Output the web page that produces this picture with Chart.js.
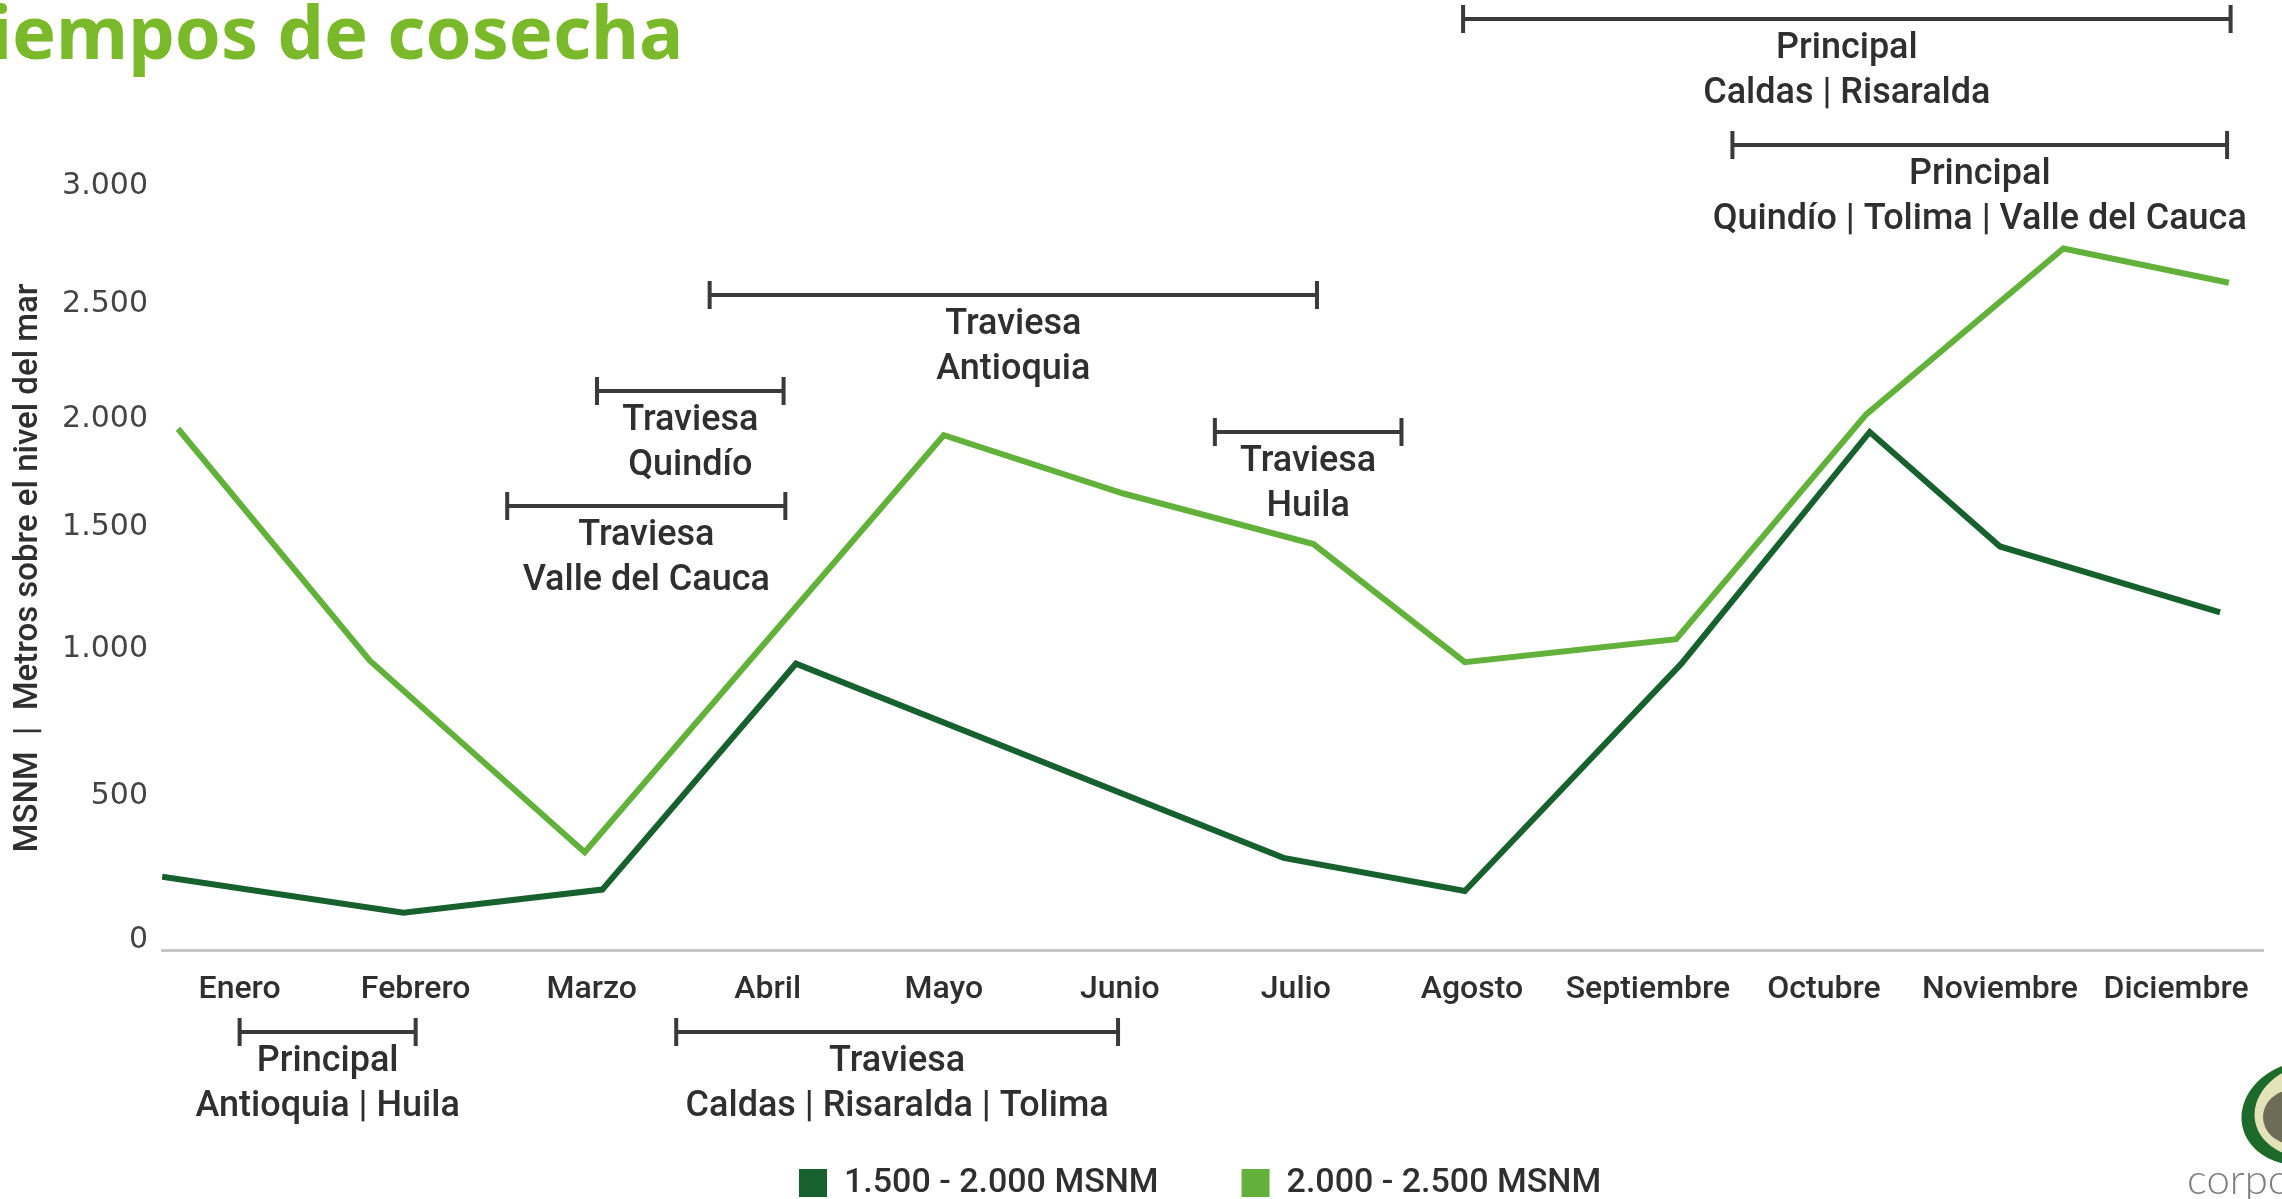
<!DOCTYPE html>
<html>
<head>
<meta charset="utf-8">
<script src="https://cdn.jsdelivr.net/npm/chart.js@4.4.1/dist/chart.umd.min.js"></script>
<style>
  html, body { margin: 0; padding: 0; background: #ffffff; overflow: hidden; }
  #wrap { width: 2282px; height: 1199px; position: relative; }
  canvas { display: block; }
</style>
</head>
<body>
<div id="wrap"><canvas id="chart" width="2282" height="1199"></canvas></div>
<script>
// ---------------- DATA ----------------
const months = ['Enero', 'Febrero', 'Marzo', 'Abril', 'Mayo', 'Junio', 'Julio',
                'Agosto', 'Septiembre', 'Octubre', 'Noviembre', 'Diciembre'];
const yTickValues = [0, 500, 1000, 1500, 2000, 2500, 3000];
const yTickLabels = ['0', '500', '1.000', '1.500', '2.000', '2.500', '3.000'];
const seriesNames = ['1.500 - 2.000 MSNM', '2.000 - 2.500 MSNM'];

// position along the year in months (0 = Enero, 11 = Diciembre), altitude value (MSNM)
const darkX  = [-0.44, 0.93, 2.06, 3.16, 5.93, 6.96, 8.19, 9.26, 10.0, 11.25];
const darkY  = [220, 95, 175, 950, 285, 170, 950, 1940, 1420, 1150];
const lightX = [-0.35, 0.74, 1.96, 4.0, 5.02, 6.1, 6.96, 8.16, 9.24, 10.36, 11.3];
const lightY = [1955, 960, 305, 1925, 1655, 1430, 955, 1040, 2020, 2735, 2590];

// harvest periods (month positions)
const periodTitles  = ['Principal', 'Principal', 'Traviesa', 'Traviesa', 'Traviesa', 'Traviesa', 'Principal', 'Traviesa'];
const periodRegions = ['Caldas | Risaralda', 'Quindío | Tolima | Valle del Cauca', 'Antioquia', 'Quindío',
                       'Valle del Cauca', 'Huila', 'Antioquia | Huila', 'Caldas | Risaralda | Tolima'];
const periodStart   = [6.95, 8.48, 2.67, 2.03, 1.52, 5.54, 0.0, 2.48];
const periodEnd     = [11.31, 11.29, 6.12, 3.09, 3.10, 6.60, 1.0, 4.99];

// ---------------- LAYOUT / STYLE ----------------
const DARK = '#17612e';
const LIGHT = '#62b13a';
const TITLE_GREEN = '#7ab929';
const TEXT = '#2f2f2f';
const FONT = 'Roboto';
const CHART_BOTTOM = 950;
const BRACKET_Y = [19, 145, 295, 391, 506, 432, 1032, 1032];
// where each y tick sits along the plot height (the original axis is spaced unevenly)
const Y_TICK_FRACTIONS = [0.0131, 0.2016, 0.394, 0.5537, 0.695, 0.8455, 1.0];
const LEGEND_LEFT = 799, LEGEND_CY = 1183;

// ---------- piecewise linear scale following the original tick spacing ----------
class BandScale extends Chart.LinearScale {
  static id = 'band';
  static defaults = Chart.LinearScale.defaults;
  _frac(v) {
    const vs = yTickValues, fs = Y_TICK_FRACTIONS;
    let i = 1;
    while (i < vs.length - 1 && v > vs[i]) i++;
    return fs[i - 1] + (v - vs[i - 1]) / (vs[i] - vs[i - 1]) * (fs[i] - fs[i - 1]);
  }
  getPixelForValue(value) {
    if (value === null || value === undefined || isNaN(value)) return NaN;
    return this.getPixelForDecimal(this._frac(value));
  }
  getValueForPixel(pixel) {
    const d = this.getDecimalForPixel(pixel);
    const vs = yTickValues, fs = Y_TICK_FRACTIONS;
    let i = 1;
    while (i < fs.length - 1 && d > fs[i]) i++;
    return vs[i - 1] + (d - fs[i - 1]) / (fs[i] - fs[i - 1]) * (vs[i] - vs[i - 1]);
  }
}
Chart.register(BandScale);

const decorations = {
  id: 'decorations',
  afterLayout(chart) {
    const lg = chart.legend;
    if (!lg) return;
    const p = lg.options.labels.padding;
    const fs = lg.options.labels.font.size;
    const itemH = Math.max(fs, lg.options.labels.boxHeight);
    const dx = (LEGEND_LEFT - p) - lg.left;
    lg.left += dx; lg.right += dx;
    const dy = (LEGEND_CY - p - itemH / 2) - lg.top;
    lg.top += dy; lg.bottom += dy;
  },
  afterDraw(chart) {
    const ctx = chart.ctx;
    const xs = chart.scales.x;
    ctx.save();
    // title
    const titleFamily = '"Noto Sans"';
    ctx.font = 'bold 100px ' + titleFamily;
    const w100 = ctx.measureText('empos de cosecha').width;
    const fsz = 100 * 671 / w100;
    ctx.font = 'bold ' + fsz.toFixed(1) + 'px ' + titleFamily;
    const offset = ctx.measureText('Ti').width;
    ctx.fillStyle = TITLE_GREEN;
    ctx.textAlign = 'left';
    ctx.textBaseline = 'alphabetic';
    ctx.fillText('Tiempos de cosecha', 12 - offset, 59);

    // harvest period brackets
    ctx.strokeStyle = '#3a3a3a';
    ctx.lineWidth = 4;
    ctx.lineCap = 'butt';
    ctx.fillStyle = TEXT;
    ctx.font = '500 36px ' + FONT;
    ctx.textAlign = 'center';
    ctx.textBaseline = 'middle';
    for (let i = 0; i < periodTitles.length; i++) {
      const x0 = xs.getPixelForValue(periodStart[i]);
      const x1 = xs.getPixelForValue(periodEnd[i]);
      const y = BRACKET_Y[i];
      ctx.beginPath();
      ctx.moveTo(x0, y); ctx.lineTo(x1, y);
      ctx.moveTo(x0, y - 14); ctx.lineTo(x0, y + 14);
      ctx.moveTo(x1, y - 14); ctx.lineTo(x1, y + 14);
      ctx.stroke();
      const cx = (x0 + x1) / 2;
      ctx.fillText(periodTitles[i], cx, y + 30);
      ctx.fillText(periodRegions[i], cx, y + 75);
    }

    // logo (partially visible at the corner)
    ctx.save();
    ctx.translate(2306, 1113);
    ctx.fillStyle = '#1d6a2b';
    ctx.beginPath(); ctx.ellipse(0, 0, 65, 52, -0.2, 0, Math.PI * 2); ctx.fill();
    ctx.fillStyle = '#e4e2b8';
    ctx.beginPath(); ctx.ellipse(9, -3, 61, 47, -0.2, 0, Math.PI * 2); ctx.fill();
    ctx.fillStyle = '#6d6d57';
    ctx.beginPath(); ctx.ellipse(-14, 4, 29, 27, 0, 0, Math.PI * 2); ctx.fill();
    ctx.restore();
    ctx.fillStyle = '#7d7d7d';
    ctx.font = '300 42px Lato';
    ctx.textAlign = 'left';
    ctx.textBaseline = 'alphabetic';
    ctx.fillText('corpohass', 2187, 1194);
    ctx.restore();
  }
};

const baseLabels = Chart.defaults.plugins.legend.labels.generateLabels;

new Chart(document.getElementById('chart'), {
  type: 'line',
  data: {
    datasets: [
      {
        label: seriesNames[0],
        data: darkX.map((x, i) => ({ x: x, y: darkY[i] })),
        borderColor: DARK, backgroundColor: DARK,
        borderWidth: 6, pointRadius: 0, tension: 0, fill: false
      },
      {
        label: seriesNames[1],
        data: lightX.map((x, i) => ({ x: x, y: lightY[i] })),
        borderColor: LIGHT, backgroundColor: LIGHT,
        borderWidth: 6, pointRadius: 0, tension: 0, fill: false
      }
    ]
  },
  options: {
    responsive: false,
    devicePixelRatio: 1,
    animation: false,
    layout: { padding: { top: 186, left: 0, right: 19, bottom: 0 } },
    plugins: {
      title: { display: false },
      tooltip: { enabled: false },
      legend: {
        display: true,
        position: 'bottom',
        align: 'start',
        labels: {
          boxWidth: 28, boxHeight: 28, padding: 83,
          color: TEXT,
          font: { family: FONT, size: 34, weight: '500' },
          generateLabels: (chart) => baseLabels(chart).map(l => Object.assign(l, { lineWidth: 0 }))
        }
      }
    },
    scales: {
      x: {
        type: 'linear',
        min: -0.441, max: 11.494,
        afterBuildTicks: (s) => { s.ticks = months.map((_, i) => ({ value: i })); },
        afterFit: (s) => {
          const lh = s.chart.legend ? s.chart.legend.height : 0;
          s.height = s.chart.height - CHART_BOTTOM - lh;
        },
        ticks: {
          autoSkip: false, maxRotation: 0, minRotation: 0,
          callback: (v) => months[v],
          color: TEXT,
          font: { family: FONT, size: 32, weight: '500' },
          padding: 21
        },
        grid: { display: false, drawTicks: false },
        border: { display: true, color: '#c6c6c6', width: 3 }
      },
      y: {
        type: 'band',
        min: 0, max: 3000,
        afterBuildTicks: (s) => { s.ticks = yTickValues.map(v => ({ value: v })); },
        afterFit: (s) => { s.width = 162; },
        ticks: {
          callback: (v) => yTickLabels[yTickValues.indexOf(v)],
          color: '#444444',
          font: { family: '"DejaVu Sans"', size: 30 },
          padding: 14
        },
        grid: { display: false, drawTicks: false },
        border: { display: false },
        title: {
          display: true,
          text: 'MSNM  |  Metros sobre el nivel del mar',
          color: TEXT,
          font: { family: FONT, size: 33, weight: '500' },
          padding: { top: 9, bottom: 0 }
        }
      }
    }
  },
  plugins: [decorations]
});
</script>
</body>
</html>
